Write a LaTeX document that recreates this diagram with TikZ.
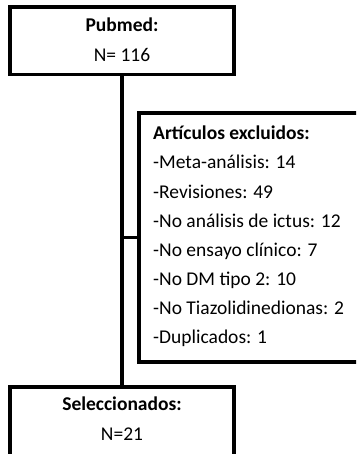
\documentclass[tikz,border=0pt]{standalone}
\usepackage{fontspec}
\setmainfont{Carlito}
\begin{document}
\begin{tikzpicture}[x=1pt,y=-1pt,
  box/.style={draw=black,line width=3.6pt,inner sep=0pt,fill=none},
  link/.style={draw=black,line width=3.6pt},
  lbl/.style={anchor=base,inner sep=0pt,font=\fontsize{19.5}{23}\selectfont},
  item/.style={anchor=base west,inner sep=0pt,font=\fontsize{19.5}{23}\selectfont}]
\useasboundingbox (0,0) rectangle (356,454);
\clip (0,0) rectangle (356,454);
\fill[white] (0,0) rectangle (356,454);
% boxes
\node[box,minimum width=224pt,minimum height=67.7pt] (pub) at (122,40.8) {};
\node[box,minimum width=262pt,minimum height=249pt] (exc) at (269.7,237.5) {};
\node[box,minimum width=224pt,minimum height=93pt] (sel) at (122,433.2) {};
% connectors
\draw[link] (pub.south) -- (sel.north);
\draw[link] (exc.west) -- (exc.west -| pub.south);
% texts
\node[lbl] (t1) at (122,32) {\bfseries Pubmed:};
\node[lbl] (t2) at (122,62) {N= 116};
\node[item] (e0) at (153,140) {\bfseries Artículos excluidos:};
\node[item] (e1) at (153,169) {-Meta-análisis: 14};
\node[item] (e2) at (153,198) {-Revisiones: 49};
\node[item] (e3) at (153,227) {-No análisis de ictus: 12};
\node[item] (e4) at (153,256) {-No ensayo clínico: 7};
\node[item] (e5) at (153,285) {-No DM tipo 2: 10};
\node[item] (e6) at (153,314) {-No Tiazolidinedionas: 2};
\node[item] (e7) at (153,343) {-Duplicados: 1};
\node[lbl] (s1) at (122,410) {\bfseries Seleccionados:};
\node[lbl] (s2) at (122,440) {N=21};
\end{tikzpicture}
\end{document}
